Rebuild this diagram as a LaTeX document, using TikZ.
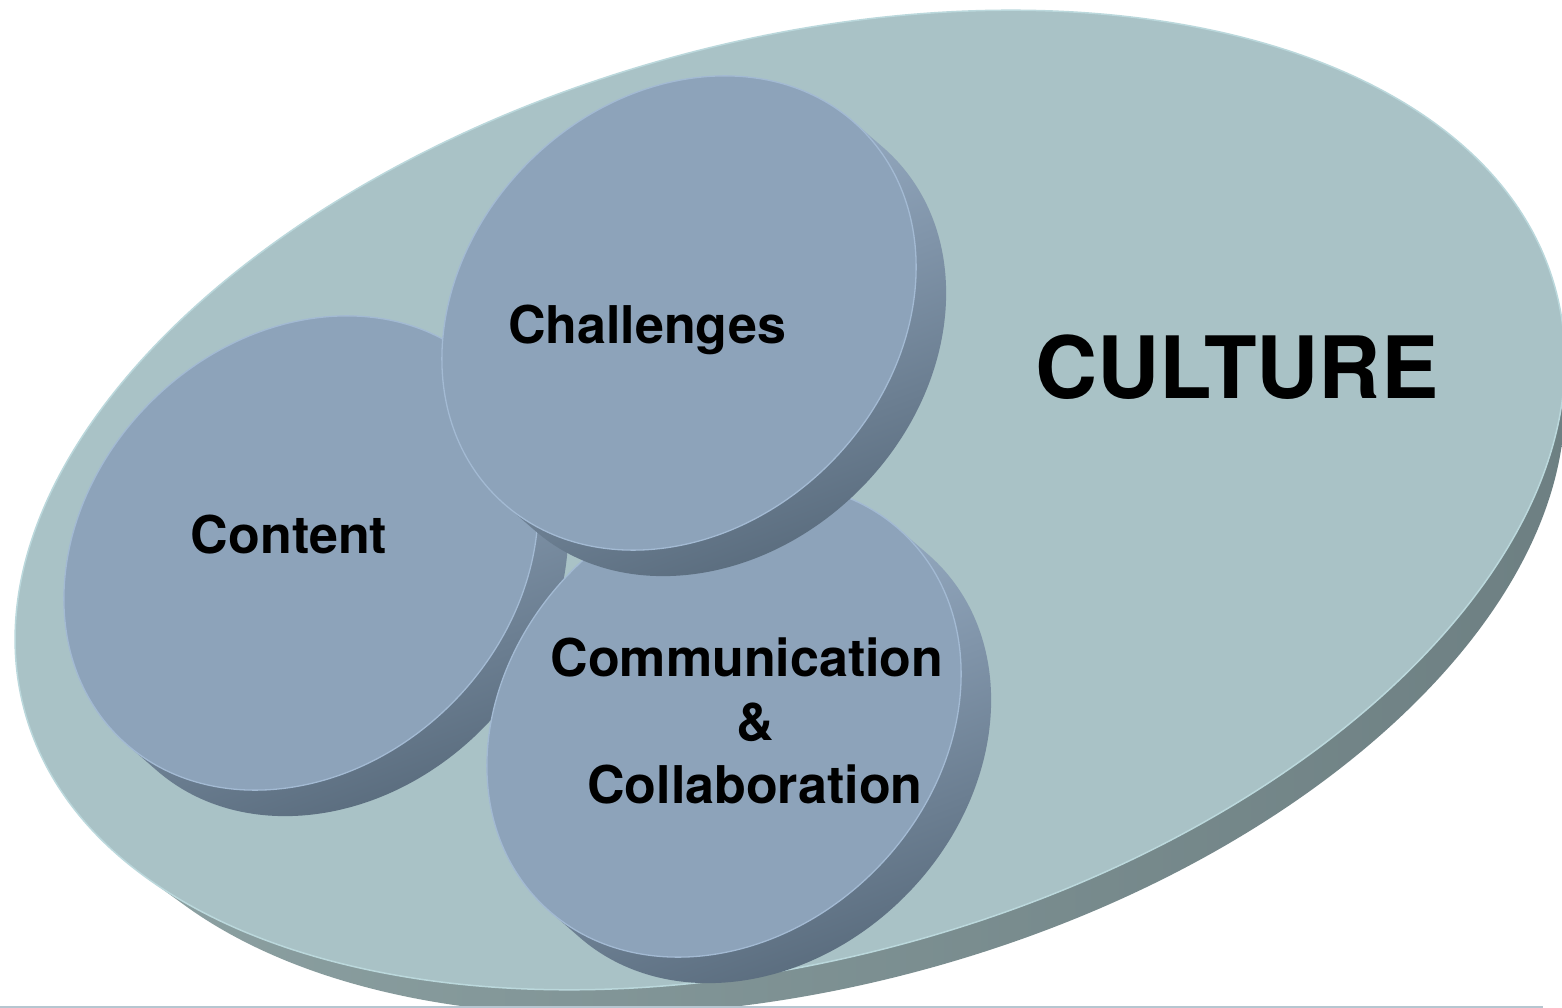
\documentclass[tikz,border=0pt]{standalone}
\usepackage{fontspec}
\setmainfont{TeX Gyre Heros}
\begin{document}
\begin{tikzpicture}[x=1pt,y=-1pt]
\definecolor{bigface}{HTML}{A9C2C6}
\definecolor{bigrim}{HTML}{BBD8DC}
\definecolor{bigextL}{HTML}{8FA4A5}
\definecolor{bigextR}{HTML}{6C7E81}
\definecolor{cface}{HTML}{8DA3BA}
\definecolor{crim}{HTML}{A3BAD3}
\definecolor{cextT}{HTML}{A8BED6}
\definecolor{cextM}{HTML}{8094A9}
\definecolor{cextB}{HTML}{566879}
\definecolor{footline}{HTML}{B5C6D0}
\tikzset{
  lbl/.style={font=\bfseries\fontsize{52}{60}\selectfont, inner sep=0pt, anchor=base, text=black},
  biglbl/.style={font=\bfseries\fontsize{86}{90}\selectfont, inner sep=0pt, anchor=base, text=black},
  diskface/.style={fill=cface, draw=crim, line width=1.3pt},
  diskext/.style={top color=cextT, bottom color=cextB, middle color=cextM, shading angle=20},
  plateface/.style={fill=bigface, draw=bigrim, line width=1.5pt},
  plateext/.style={left color=bigextL, right color=bigextR},
}
\newcommand{\mydisk}[2]{%
  \shade[diskext] \foreach \k in {0,...,15}{ ({#1+\k*2},{#2+\k*26/15}) ellipse [x radius=259, y radius=213, rotate=45] };
  \path[diskface] (#1,#2) ellipse [x radius=259, y radius=213, rotate=45];
}
\fill[white] (0,0) rectangle (1562,1008);
\useasboundingbox (0,0) rectangle (1562,1008);
% culture plate (back face shrinks toward a low vanishing point)
\shade[plateext] \foreach \k in {0,...,16}{ ({790+\k*21.4/16},{500+\k*38.8/16}) ellipse [x radius={794-\k*22/16}, y radius={458-\k*12.7/16}, rotate=15.5] };
\path[plateface] (790,500) ellipse [x radius=794, y radius=458, rotate=15.5];
\draw[footline, line width=2pt] (0,1006.5) -- (1543,1006.5);
% disks
\mydisk{301}{553}
\mydisk{724}{720}
\mydisk{679}{313}
% labels
\node[lbl] (challenges) at (647,343) {Challenges};
\node[lbl] (content) at (289,553) {Content};
\node[lbl] (comm) at (747,676) {Communication};
\node[lbl] (amp) at (755,740) {\&};
\node[lbl] (collab) at (755,803) {Collaboration};
\node[biglbl] (culture) at (1237,398) {CULTURE};
\end{tikzpicture}
\end{document}
